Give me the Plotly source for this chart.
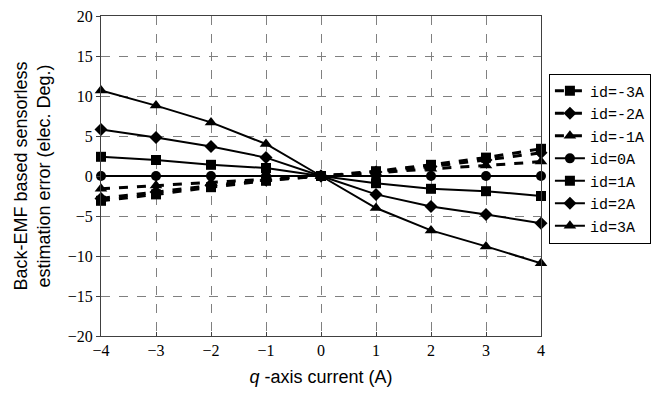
import plotly.graph_objects as go

iq = [-4, -3, -2, -1, 0, 1, 2, 3, 4]

names = ["id=-3A", "id=-2A", "id=-1A", "id=0A", "id=1A", "id=2A", "id=3A"]
err_m3 = [-3.1, -2.3, -1.4, -0.6, 0, 0.6, 1.4, 2.3, 3.4]
err_m2 = [-2.8, -2.0, -1.2, -0.5, 0, 0.5, 1.2, 2.0, 2.9]
err_m1 = [-1.6, -1.2, -0.8, -0.4, 0, 0.4, 0.9, 1.3, 1.8]
err_0 = [0, 0, 0, 0, 0, 0, 0, 0, 0]
err_1 = [2.4, 2.0, 1.4, 1.0, 0, -0.9, -1.6, -1.9, -2.5]
err_2 = [5.8, 4.8, 3.7, 2.3, 0, -2.3, -3.8, -4.8, -5.9]
err_3 = [10.7, 8.8, 6.7, 4.0, 0, -4.0, -6.8, -8.8, -10.9]

series = [err_m3, err_m2, err_m1, err_0, err_1, err_2, err_3]
symbols = ["square", "diamond", "triangle-up", "circle", "square", "diamond", "triangle-up"]
dashes = ["dash", "dash", "dash", "solid", "solid", "solid", "solid"]
widths = [3, 3, 3, 2, 2, 2, 2]
sizes = [10, 10, 11, 10, 10, 10, 11]

y_ticks = [-20, -15, -10, -5, 0, 5, 10, 15, 20]

fig = go.Figure()
for name, ys, sym, dash, w, s in zip(names, series, symbols, dashes, widths, sizes):
    fig.add_trace(go.Scatter(
        x=iq, y=ys, name=name, mode="lines+markers",
        line=dict(color="black", width=w, dash=dash),
        marker=dict(symbol=sym, size=s, color="black"),
        cliponaxis=False,
    ))

fig.update_layout(
    width=653, height=391,
    margin=dict(l=93, r=120, t=8, b=63, autoexpand=False),
    paper_bgcolor="white", plot_bgcolor="white",
    showlegend=True,
    legend=dict(
        x=1.018, y=0.82, xanchor="left", yanchor="top",
        bordercolor="black", borderwidth=1, bgcolor="white",
        font=dict(family="Liberation Mono", size=15, color="black"),
        tracegroupgap=0, itemwidth=30,
    ),
    font=dict(family="Liberation Serif", color="black"),
)
fig.update_xaxes(
    range=[-4, 4], tickvals=iq, showgrid=True, automargin=False,
    gridcolor="#808080", griddash="dash", gridwidth=1,
    showline=True, linecolor="#404040", linewidth=1, mirror=True,
    zeroline=False,
    ticks="inside", ticklen=4, tickcolor="#404040",
    ticklabeloverflow="allow",
    tickfont=dict(family="Liberation Serif", size=16, color="black"),
    title=dict(text="<i>q</i> -axis current (A)",
               font=dict(family="Liberation Sans", size=18, color="black"),
               standoff=12),
)
fig.update_yaxes(
    range=[-20, 20], tickvals=y_ticks, showgrid=True, automargin=False,
    gridcolor="#808080", griddash="dash", gridwidth=1,
    showline=True, linecolor="#404040", linewidth=1, mirror=True,
    zeroline=False,
    ticks="outside", ticklen=4, tickcolor="#404040",
    ticklabeloverflow="allow",
    tickfont=dict(family="Liberation Serif", size=16, color="black"),
    title=dict(text="Back-EMF based sensorless<br>estimation error (elec. Deg.)",
               font=dict(family="Liberation Sans", size=18, color="black"),
               standoff=12),
)

fig.write_html("out.html")
